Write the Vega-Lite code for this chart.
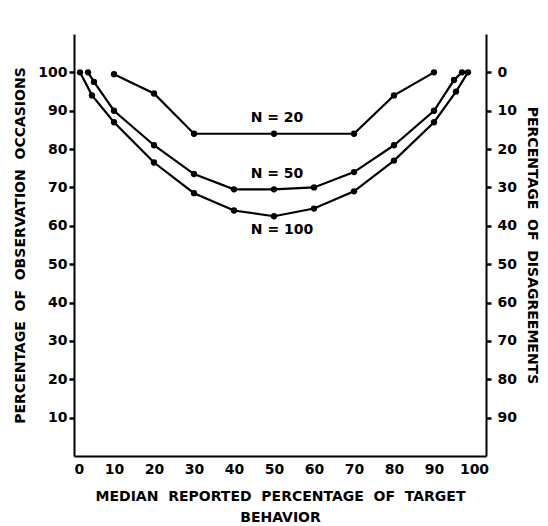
{
  "$schema": "https://vega.github.io/schema/vega-lite/v6.json",
  "width": 412,
  "height": 422,
  "autosize": {"type": "none"},
  "padding": {"left": 74, "top": 34, "right": 62, "bottom": 70},
  "background": "white",
  "config": {
    "view": {"stroke": null},
    "font": "DejaVu Sans",
    "axis": {
      "grid": false,
      "domainColor": "black",
      "domainWidth": 2,
      "tickColor": "black",
      "tickWidth": 2.5,
      "labelFont": "DejaVu Sans",
      "labelFontWeight": "bold",
      "labelFontSize": 14,
      "labelColor": "black",
      "titleFont": "DejaVu Sans",
      "titleFontWeight": "bold",
      "titleFontSize": 14,
      "titleColor": "black"
    }
  },
  "datasets": {
    "curves": [
      {"N": "20", "pct": 10, "obs": 99.5},
      {"N": "20", "pct": 20, "obs": 94.5},
      {"N": "20", "pct": 30, "obs": 84},
      {"N": "20", "pct": 50, "obs": 84},
      {"N": "20", "pct": 70, "obs": 84},
      {"N": "20", "pct": 80, "obs": 94},
      {"N": "20", "pct": 90, "obs": 100},
      {"N": "50", "pct": 3.5, "obs": 100},
      {"N": "50", "pct": 5, "obs": 97.5},
      {"N": "50", "pct": 10, "obs": 90},
      {"N": "50", "pct": 20, "obs": 81},
      {"N": "50", "pct": 30, "obs": 73.5},
      {"N": "50", "pct": 40, "obs": 69.5},
      {"N": "50", "pct": 50, "obs": 69.5},
      {"N": "50", "pct": 60, "obs": 70},
      {"N": "50", "pct": 70, "obs": 74},
      {"N": "50", "pct": 80, "obs": 81},
      {"N": "50", "pct": 90, "obs": 90},
      {"N": "50", "pct": 95, "obs": 98},
      {"N": "50", "pct": 97, "obs": 100},
      {"N": "100", "pct": 1.5, "obs": 100},
      {"N": "100", "pct": 4.5, "obs": 94},
      {"N": "100", "pct": 10, "obs": 87},
      {"N": "100", "pct": 20, "obs": 76.5},
      {"N": "100", "pct": 30, "obs": 68.5},
      {"N": "100", "pct": 40, "obs": 64},
      {"N": "100", "pct": 50, "obs": 62.5},
      {"N": "100", "pct": 60, "obs": 64.5},
      {"N": "100", "pct": 70, "obs": 69},
      {"N": "100", "pct": 80, "obs": 77},
      {"N": "100", "pct": 90, "obs": 87},
      {"N": "100", "pct": 95.5, "obs": 95},
      {"N": "100", "pct": 98.5, "obs": 100}
    ],
    "labels": [
      {"label": "N = 20", "pct": 50.75, "obs": 88},
      {"label": "N = 50", "pct": 50.75, "obs": 73.4},
      {"label": "N = 100", "pct": 52, "obs": 58.9}
    ]
  },
  "resolve": {"axis": {"y": "independent"}},
  "layer": [
    {
      "data": {"name": "curves"},
      "mark": {"type": "line", "color": "black", "strokeWidth": 2.2, "point": {"filled": true, "color": "black", "size": 40}},
      "encoding": {
        "x": {
          "field": "pct", "type": "quantitative",
          "scale": {"domain": [0, 103], "nice": false},
          "axis": {
            "values": [0, 10, 20, 30, 40, 50, 60, 70, 80, 90, 100],
            "labelOverlap": false,
            "ticks": false,
            "labelPadding": 6,
            "title": ["MEDIAN\u00a0\u00a0REPORTED\u00a0\u00a0PERCENTAGE\u00a0\u00a0OF\u00a0\u00a0TARGET", "BEHAVIOR"],
            "titlePadding": 13,
            "titleLineHeight": 21
          }
        },
        "y": {
          "field": "obs", "type": "quantitative",
          "scale": {"domain": [0, 110], "nice": false},
          "axis": {
            "orient": "left",
            "values": [10, 20, 30, 40, 50, 60, 70, 80, 90, 100],
            "ticks": true,
            "tickSize": 5,
            "labelPadding": 2,
            "title": "PERCENTAGE\u00a0\u00a0OF\u00a0\u00a0OBSERVATION\u00a0\u00a0OCCASIONS",
            "titlePadding": 10
          }
        },
        "detail": {"field": "N", "type": "nominal"}
      }
    },
    {
      "data": {"name": "labels"},
      "mark": {"type": "text", "font": "DejaVu Sans", "fontWeight": "bold", "fontSize": 14, "color": "black"},
      "encoding": {
        "x": {"field": "pct", "type": "quantitative"},
        "y": {
          "field": "obs", "type": "quantitative",
          "axis": {
            "orient": "right",
            "values": [10, 20, 30, 40, 50, 60, 70, 80, 90, 100],
            "labelExpr": "100 - datum.value",
            "ticks": true,
            "tickSize": 5,
            "labelPadding": 6,
            "title": "PERCENTAGE\u00a0\u00a0OF\u00a0\u00a0DISAGREEMENTS",
            "titlePadding": 8
          }
        },
        "text": {"field": "label"}
      }
    }
  ]
}
